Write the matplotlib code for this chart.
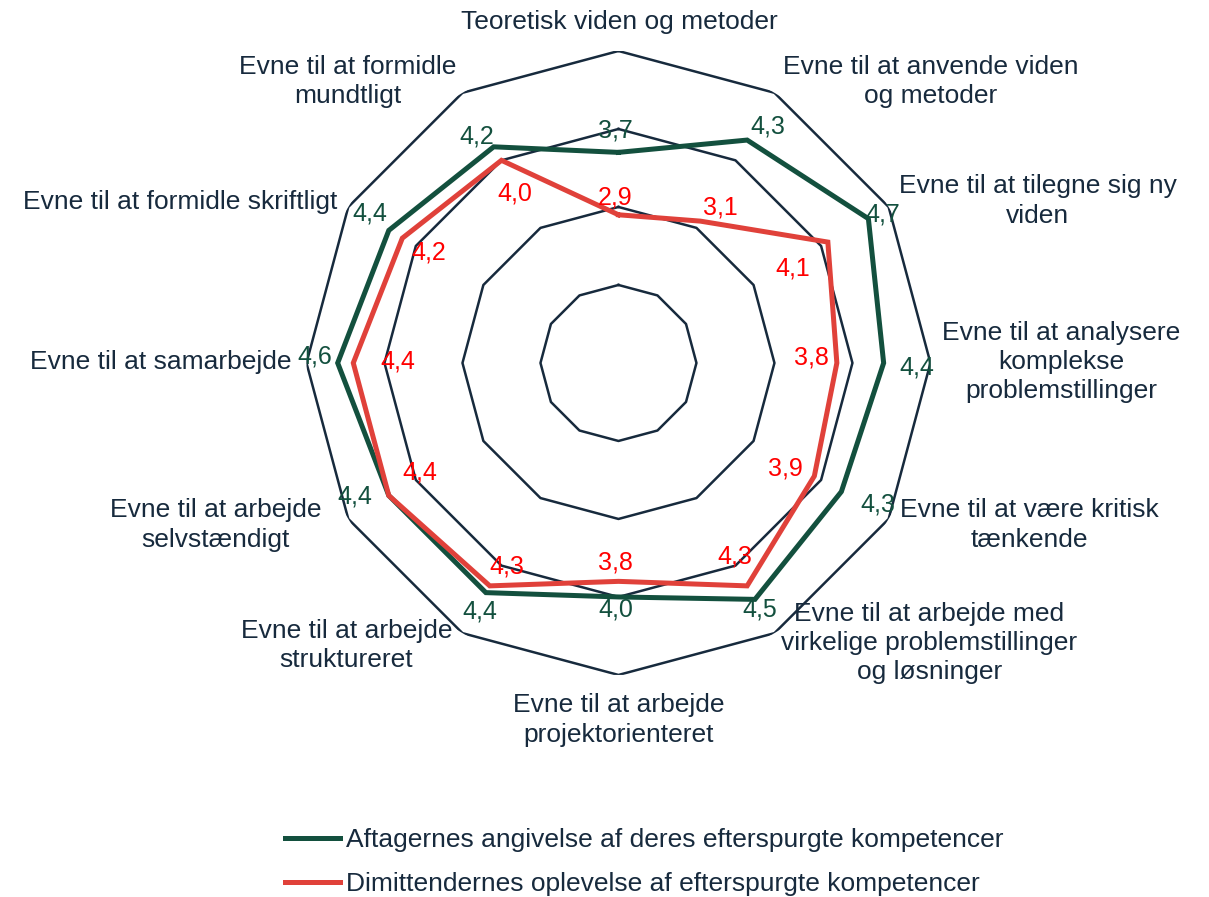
import numpy as np
from matplotlib import pyplot as plt

plt.rcParams['font.family'] = ['Liberation Sans', 'DejaVu Sans']

categories = ['Teoretisk viden og metoder',
              'Evne til at anvende viden\nog metoder',
              'Evne til at tilegne sig ny\nviden',
              'Evne til at analysere\nkomplekse\nproblemstillinger',
              'Evne til at være kritisk\ntænkende',
              'Evne til at arbejde med\nvirkelige problemstillinger\nog løsninger',
              'Evne til at arbejde\nprojektorienteret',
              'Evne til at arbejde\nstruktureret',
              'Evne til at arbejde\nselvstændigt',
              'Evne til at samarbejde',
              'Evne til at formidle skriftligt',
              'Evne til at formidle\nmundtligt']
aftagere = [3.7, 4.3, 4.7, 4.4, 4.3, 4.5, 4.0, 4.4, 4.4, 4.6, 4.4, 4.2]
dimittender = [2.9, 3.1, 4.1, 3.8, 3.9, 4.3, 3.8, 4.3, 4.4, 4.4, 4.2, 4.0]
series_names = ['Aftagernes angivelse af deres efterspurgte kompetencer',
                'Dimittendernes oplevelse af efterspurgte kompetencer']
levels = [2, 3, 4, 5]

# label placement, pixel offsets (x right, y up)
cat_off = [(1, 29), (156, 11), (149, 6), (131, 1), (141, -6), (155, -10),
           (0, -45), (-116, -12), (-133, -6), (-146, 1), (-168, 5), (-115, 11)]
green_off = [(-3, 22), (21, 14), (14, 4), (33, -5), (36, -13), (5, -10),
             (-3, -13), (-6, -19), (-34, -1), (-23, 6), (-19, 17), (-17, 10)]
red_off = [(-3, 17), (20, 14), (-35, -26), (-25, 5), (-29, 8), (-12, 29),
           (-3, 19), (17, 19), (31, 23), (45, 1), (26, -14), (13, -33)]

GREEN = '#13503e'
RED = '#e0413a'
NAVY = '#172a3d'

n = len(categories)
theta = np.arange(n) * 2 * np.pi / n
theta_c = np.append(theta, theta[0])

fig = plt.figure(figsize=(12.09, 8.97), dpi=100)
ax = fig.add_axes([0.2535, 0.2475, 0.5161, 0.6957], projection='polar')
ax.set_theta_zero_location('N')
ax.set_theta_direction(-1)
ax.set_ylim(1, 5)
ax.set_xticks([])
ax.set_yticks([])
ax.grid(False)
ax.spines['polar'].set_visible(False)
ax.patch.set_alpha(0)

for lv in levels:
    ax.plot(theta_c, [lv] * (n + 1), color=NAVY, lw=1.8, zorder=1)

g = np.append(aftagere, aftagere[0])
r = np.append(dimittender, dimittender[0])
ax.plot(theta_c, g, color=GREEN, lw=3.6, label=series_names[0], zorder=2,
        solid_joinstyle='miter')
ax.plot(theta_c, r, color=RED, lw=3.6, label=series_names[1], zorder=3,
        solid_joinstyle='miter')

def fmt(v):
    return ('%.1f' % v).replace('.', ',')

for i in range(n):
    ax.annotate(fmt(aftagere[i]), (theta[i], aftagere[i]), xytext=green_off[i],
                textcoords='offset pixels', ha='center', va='center',
                fontsize=18, color=GREEN, zorder=5, annotation_clip=False)
    ax.annotate(fmt(dimittender[i]), (theta[i], dimittender[i]), xytext=red_off[i],
                textcoords='offset pixels', ha='center', va='center',
                fontsize=18, color='#ff0000', zorder=5, annotation_clip=False)
    ax.annotate(categories[i], (theta[i], 5), xytext=cat_off[i],
                textcoords='offset pixels', ha='center', va='center',
                fontsize=19, color=NAVY, linespacing=1.27, multialignment='center',
                annotation_clip=False)

fig.legend(loc='upper left', bbox_to_anchor=(0.2357, 0.077), frameon=False,
           fontsize=19, handlelength=2.1, handletextpad=0.2, labelspacing=0.76,
           borderpad=0, borderaxespad=0, labelcolor=NAVY)

fig.savefig('out.png', dpi=100)
